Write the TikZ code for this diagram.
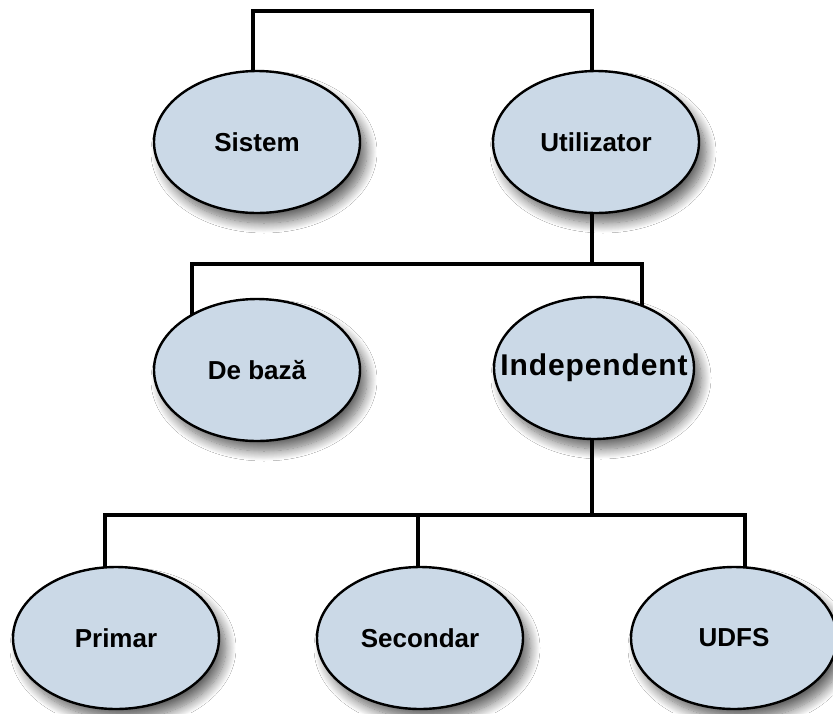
\documentclass[tikz,border=0pt]{standalone}
\usepackage{fontspec}
\setmainfont{Liberation Sans}
\usetikzlibrary{shapes.geometric,shadows.blur,backgrounds}
\definecolor{ellfill}{HTML}{CBD9E7}
\tikzset{
  ell/.style={ellipse, draw=black, line width=2.4pt, fill=ellfill,
    minimum width=206pt, minimum height=142pt, inner sep=0pt,
    font=\fontsize{26}{30}\selectfont\bfseries,
    blur shadow={shadow xshift=7pt, shadow yshift=-10pt, shadow blur steps=14, shadow blur radius=10pt, shadow opacity=60}},
  conn/.style={line width=4.4pt, black, line cap=rect},
}
\begin{document}
\begin{tikzpicture}[x=1pt,y=-1pt]
\useasboundingbox (0,0) rectangle (833,713);
\node[ell] (sistem) at (257,142) {Sistem};
\node[ell] (util) at (596,142) {Utilizator};
\node[ell] (debaza) at (257,370) {De baz\u{a}};
\node[ell, minimum width=200pt, inner xsep=-40pt, font=\fontsize{30}{34}\selectfont\bfseries] (indep) at (594,368) {\addfontfeatures{LetterSpace=3}Independent};
\node[ell] (primar) at (116,638) {Primar};
\node[ell] (second) at (420,638) {Secondar};
\node[ell] (udfs) at (734,638) {UDFS};
\coordinate (t1) at (253,11);
\coordinate (t2) at (592,11);
\coordinate (m1) at (192,264);
\coordinate (m2) at (642,264);
\coordinate (mj) at (592,264);
\coordinate (b1) at (105,515);
\coordinate (b2) at (418,515);
\coordinate (b3) at (745,515);
\coordinate (bj) at (592,515);
\begin{scope}[on background layer]
\fill[white] (0,0) rectangle (833,713);
\draw[conn] (t1 |- sistem.center) -- (t1) -- (t2) -- (t2 |- util.center);
\draw[conn] (mj |- util.center) -- (mj);
\draw[conn] (m1 |- debaza.center) -- (m1) -- (m2) -- (m2 |- indep.center);
\draw[conn] (bj |- indep.center) -- (bj);
\draw[conn] (b1 |- primar.center) -- (b1) -- (b3) -- (b3 |- udfs.center);
\draw[conn] (b2) -- (b2 |- second.center);
\end{scope}
\end{tikzpicture}
\end{document}
